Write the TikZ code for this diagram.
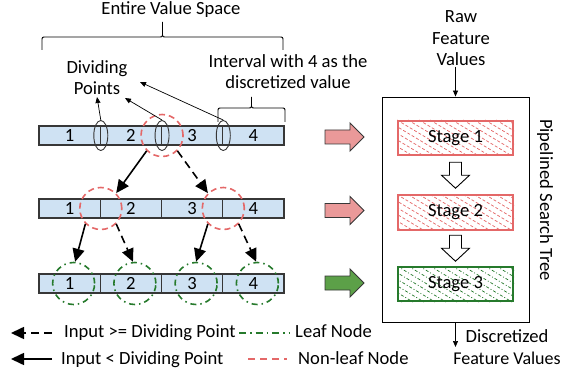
\documentclass[tikz,border=0pt]{standalone}
\usepackage{fontspec}
\setmainfont{Carlito}
\usetikzlibrary{arrows.meta,shapes.geometric,calc,backgrounds}

\definecolor{cellblue}{RGB}{207,226,243}
\definecolor{edgegray}{RGB}{55,55,55}
\definecolor{nonleafred}{RGB}{228,104,104}
\definecolor{leafgreen}{RGB}{38,122,44}
\definecolor{blockred}{RGB}{234,153,153}
\definecolor{blockgreen}{RGB}{92,160,72}

\tikzset{
  cell/.style={draw=edgegray, fill=cellblue, line width=1.1pt, minimum width=61.25pt,
    minimum height=19pt, inner sep=0pt},
  divring/.style={ellipse, draw=edgegray, line width=0.9pt, minimum width=14pt,
    minimum height=30pt, inner sep=0pt},
  nonleaf/.style={circle, draw=nonleafred, line width=1.6pt, dash pattern=on 6pt off 4pt,
    minimum size=42pt, inner sep=0pt},
  leaf/.style={circle, draw=leafgreen, line width=1.6pt, dash pattern=on 6pt off 4pt on 1.5pt off 4pt,
    minimum size=42pt, inner sep=0pt},
  less/.style={-{Triangle[length=13pt,width=12pt]}, line width=1.6pt},
  geq/.style={less, dash pattern=on 8pt off 5pt},
  thin/.style={-{Triangle[length=6pt,width=5pt]}, line width=0.7pt},
  lbl/.style={anchor=base, inner sep=0pt},
  lbll/.style={anchor=base west, inner sep=0pt},
  stagebox/.style={minimum width=115pt, minimum height=34pt, line width=2pt, inner sep=0pt},
  hatchred/.style={draw=nonleafred, line width=0.7pt, dash pattern=on 3pt off 2pt},
  hatchgreen/.style={draw=leafgreen, line width=0.7pt, dash pattern=on 3pt off 2pt on 1pt off 2pt},
  block/.style={draw=edgegray, line width=0.9pt, line join=miter},
  hollow/.style={draw=black, fill=white, line width=0.9pt, line join=miter},
  bracepath/.style={line width=0.9pt},
}

% curly brace: \curlybrace{x0}{x1}{end y}{bar y}{tip y}{corner}
\newcommand{\curlybrace}[6]{%
  \pgfmathsetmacro{\bxm}{(#1+#2)/2}%
  \draw[bracepath] (#1,#3) -- (#1,#4+#6) .. controls (#1,#4) .. (#1+#6,#4)
    -- (\bxm-#6,#4) .. controls (\bxm,#4) .. (\bxm,#4-#6) -- (\bxm,#5);
  \draw[bracepath] (\bxm,#4-#6) .. controls (\bxm,#4) .. (\bxm+#6,#4)
    -- (#2-#6,#4) .. controls (#2,#4) .. (#2,#4+#6) -- (#2,#3);
}

\begin{document}
\begin{tikzpicture}[x=1pt, y=-1pt, font=\fontsize{18.6}{21}\selectfont]
\useasboundingbox (0,0) rectangle (566,369);

% ---- value space bars ----
\foreach \r/\y in {1/135.5, 2/208.5, 3/283.5} {
  \foreach \i in {1,...,4} {
    \node[cell] (c\r\i) at ({39+61.25*(\i-0.5)},\y) {\i};
  }
}

% dividing points on the first bar
\node[divring] (e1) at (c11.east) {};
\node[divring] (e2) at (c12.east) {};
\node[divring] (e3) at (c13.east) {};

% search-tree nodes
\node[nonleaf] (r1) at (c12.east) {};
\node[nonleaf] (r21) at (c21.east) {};
\node[nonleaf] (r22) at (c23.east) {};
\foreach \i in {1,...,4} {
  \node[leaf] (g3\i) at ($(c3\i.center)+(4,0)$) {};
}

% tree edges
\draw[less] (r1.225) -- (r21.45);
\draw[geq]  (r1.-45) -- (r22.135);
\draw[less] (r21.225) -- (g31.86);
\draw[geq]  (r21.-45) -- (g32.95);
\draw[less] (r22.225) -- (g33.90);
\draw[geq]  (r22.-45) -- (g34.93);

% ---- annotations above the bars ----
\node[lbl] (evs) at (171,15) {Entire Value Space};
\curlybrace{42}{283}{50}{37}{22}{4}

\node[lbl] (dp1) at (97,74) {Dividing};
\node[lbl] (dp2) at (97,95) {Points};
\coordinate (t1) at (97,97);
\coordinate (t2) at (125,98);
\coordinate (t3) at (140,82);
\draw[thin] (e1.north) -- (t1);
\draw[thin] (e2.north) -- (t2);
\draw[thin] (e3.north) -- (t3);

\node[lbl] (iv1) at (288,68) {Interval with 4 as the};
\node[lbl] (iv2) at (288,89) {discretized value};
\curlybrace{218}{285}{122}{108}{97}{4}

% ---- block arrows toward the pipeline ----
\foreach \y/\c in {137/blockred, 210.5/blockred, 283/blockgreen} {
  \begin{scope}[shift={(344.5,\y)}]
    \draw[block, fill=\c] (-19.5,-7) -- (5.5,-7) -- (5.5,-14) -- (19.5,0)
      -- (5.5,14) -- (5.5,7) -- (-19.5,7) -- cycle;
  \end{scope}
}

% ---- pipelined search tree ----
\node[draw=black, line width=0.9pt, minimum width=147pt, minimum height=225pt, inner sep=0pt]
  (pst) at (455.5,209.5) {};
\node[stagebox, draw=nonleafred] (s1) at (455.5,138) {Stage 1};
\node[stagebox, draw=nonleafred] (s2) at (455.5,212.5) {Stage 2};
\node[stagebox, draw=leafgreen]  (s3) at (455.5,284) {Stage 3};

\begin{scope}[on background layer]
  \foreach \s/\h in {s1/hatchred, s2/hatchred, s3/hatchgreen} {
    \begin{scope}
      \clip (\s.north west) rectangle (\s.south east);
      \foreach \k in {-7,...,11} {
        \draw[\h] ($(\s.north west)+(\k*11,0)$) -- ++(60,36);
      }
    \end{scope}
  }
\end{scope}

\foreach \a/\b in {s1/s2, s2/s3} {
  \begin{scope}[shift={($(\a.south)!0.5!(\b.north)$)}]
    \draw[hollow] (-6,-13) -- (6,-13) -- (6,0) -- (14,0) -- (0,13)
      -- (-14,0) -- (-6,0) -- cycle;
  \end{scope}
}

\node[rotate=-90, inner sep=0pt] (pstl) at (545,200) {Pipelined Search Tree};

\node[lbl] (raw1) at (461,23) {Raw};
\node[lbl] (raw2) at (461,45) {Feature};
\node[lbl] (raw3) at (461,66) {Values};
\coordinate (rawend) at (455.5,67);
\draw[thin] (rawend) -- (pst.north);

\coordinate (outend) at (455.5,347);
\draw[thin] (pst.south) -- (outend);
\node[lbl] (out1) at (507,342) {Discretized};
\node[lbl, font=\fontsize{18}{21}\selectfont] (out2) at (507,364) {Feature Values};

% ---- legend ----
\coordinate (lg1a) at (52,333);  \coordinate (lg1b) at (11,333);
\coordinate (lg2a) at (52,359);  \coordinate (lg2b) at (11,359);
\draw[geq] (lg1a) -- (lg1b);
\draw[less] (lg2a) -- (lg2b);
\node[lbll] (lt1) at (64,337) {Input >= Dividing Point};
\node[lbll] (lt2) at (61,364) {Input < Dividing Point};

\coordinate (lg3a) at (239,333); \coordinate (lg3b) at (289,333);
\coordinate (lg4a) at (248,359); \coordinate (lg4b) at (287,359);
\draw[draw=leafgreen, line width=1.6pt, dash pattern=on 7pt off 4pt on 1.5pt off 4pt] (lg3a) -- (lg3b);
\draw[draw=nonleafred, line width=1.6pt, dash pattern=on 7pt off 5pt] (lg4a) -- (lg4b);
\node[lbll] (lt3) at (295,337) {Leaf Node};
\node[lbll] (lt4) at (298,364) {Non-leaf Node};
\end{tikzpicture}
\end{document}
